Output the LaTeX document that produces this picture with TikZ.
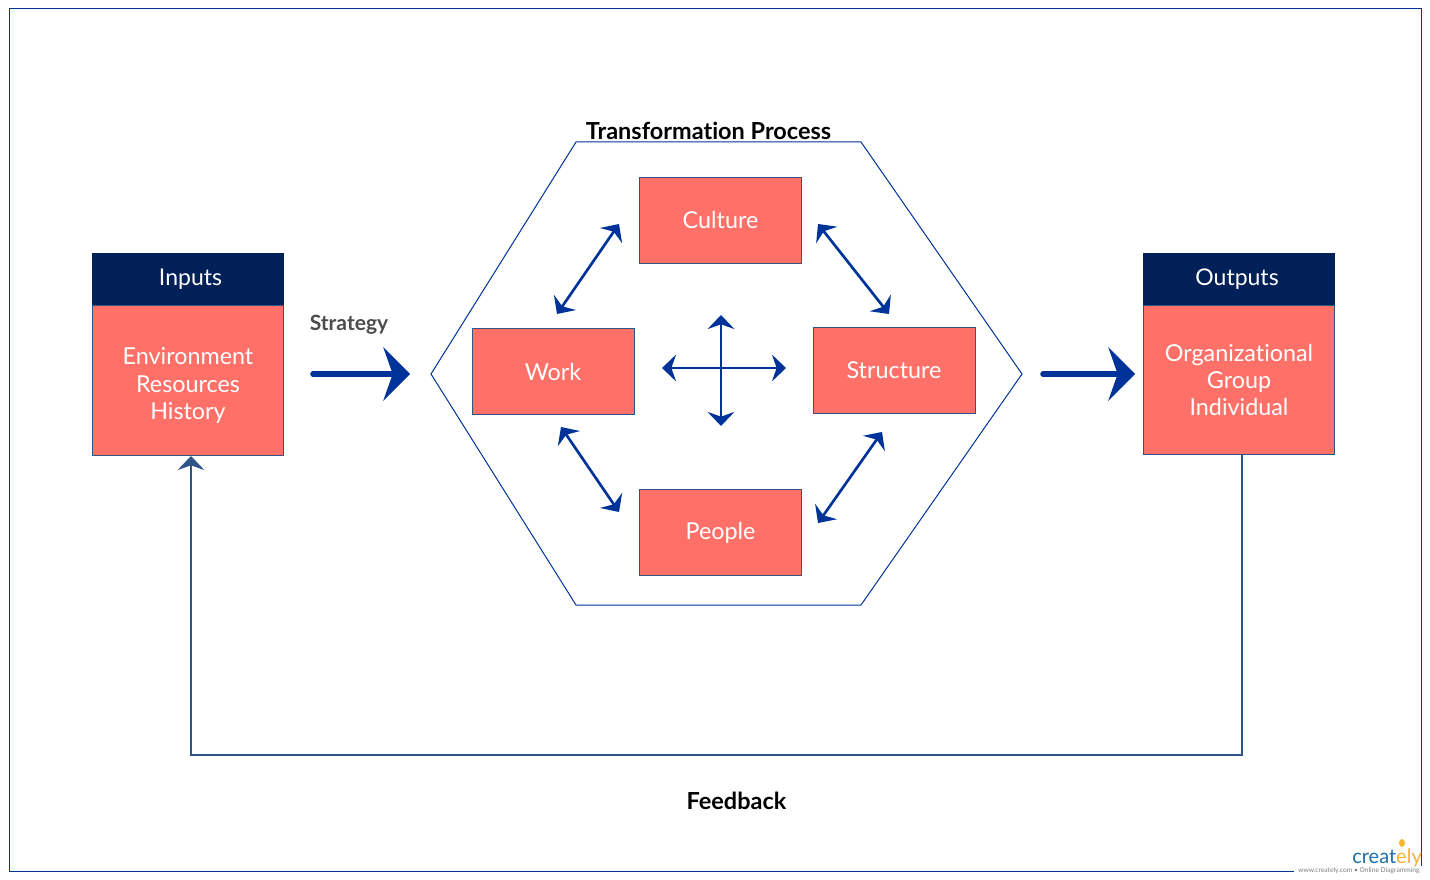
\documentclass[tikz,border=0pt]{standalone}
\usepackage{fontspec}
\setmainfont[Ligatures=NoCommon]{Lato}
\usetikzlibrary{arrows.meta}
\definecolor{framenavy}{RGB}{0, 51, 153}
\definecolor{headernavy}{RGB}{0, 32, 87}
\definecolor{boxred}{RGB}{255, 113, 104}
\definecolor{boxline}{RGB}{47, 84, 135}
\definecolor{labelgray}{RGB}{77, 77, 77}
\definecolor{logoblue}{RGB}{30, 110, 170}
\definecolor{logoyellow}{RGB}{245, 180, 50}

\begin{document}
\begin{tikzpicture}[
        x=0.75pt, y=-0.75pt,
        header/.style={rectangle, draw=headernavy, fill=headernavy, line width=0.75pt, minimum width=143.25pt, minimum height=38.25pt, inner sep=0pt, text=white, font=\fontsize{17.25}{20}\selectfont},
        body/.style={rectangle, draw=boxline, fill=boxred, line width=0.75pt, minimum width=143.25pt, minimum height=113pt, inner sep=0pt, text=white, align=center, font=\fontsize{17.5}{20.6}\selectfont},
        factor/.style={rectangle, draw=boxline, fill=boxred, line width=0.75pt, minimum width=121.5pt, minimum height=65pt, inner sep=0pt, text=white, font=\fontsize{17.5}{20.6}\selectfont},
        title/.style={inner sep=0pt, font=\fontsize{17.6}{20}\selectfont\bfseries},
        bigflow/.style={-{Stealth[length=20pt, width=40pt, inset=7pt]}, line width=4.2pt, line cap=round, color=framenavy},
        twoway/.style={{Stealth[length=10.5pt, width=20pt, inset=3.5pt]}-{Stealth[length=10.5pt, width=20pt, inset=3.5pt]}, line width=2pt, color=framenavy},
        feedback/.style={-{Stealth[length=10.5pt, width=20pt, inset=3.5pt]}, line width=1.5pt, color=boxline}
    ]
    \useasboundingbox (0, 0) rectangle (1430, 880);

    % Outer frame and hexagon
    \draw[framenavy, line width=0.75pt] (9, 9) rectangle (1421, 871);
    \draw[framenavy, line width=0.75pt] (431, 374) -- (576, 142) -- (861, 142) -- (1022, 374) -- (861, 605) -- (576, 605) -- cycle;

    % Inputs and Outputs
    \node[header] (inhead) at (188, 279) {\hspace*{3.75pt}Inputs};
    \node[body] (inbody) at (188, 380.5) {\mbox{}\\ Environment\\ Resources\\ History};
    \node[header] (outhead) at (1239, 279) {Outputs\hspace*{3pt}};
    \node[body, minimum height=112pt] (outbody) at (1239, 380) {\raisebox{-1.5pt}{Organizational}\\ \raisebox{-1.5pt}{Group}\\ \raisebox{-1.5pt}{Individual}};

    % Factors inside the hexagon
    \node[factor] (culture) at (720.5, 220.5) {\raisebox{-0.75pt}{Culture}};
    \node[factor] (work) at (553, 371.5) {\raisebox{-0.75pt}{Work}};
    \node[factor] (structure) at (894, 370.5) {\raisebox{-0.75pt}{Structure}};
    \node[factor] (people) at (720.5, 532.5) {\raisebox{-1pt}{People}};

    % Titles
    \node[title] (process) at (708.5, 130.5) {Transformation Process};
    \node[title, text=labelgray, font=\fontsize{15.8}{18}\selectfont\bfseries] (strategy) at (349, 324.5) {Strategy};
    \node[title] (feedbacklabel) at (736.5, 801) {Feedback};

    % Ends of the arrows
    \coordinate (strategyin) at (313, 374);
    \coordinate (strategyout) at (410, 374);
    \coordinate (resultin) at (1043, 374);
    \coordinate (resultout) at (1135, 374);
    \coordinate (workup) at (557, 314);
    \coordinate (cultureleft) at (619, 224);
    \coordinate (cultureright) at (818, 224);
    \coordinate (structureup) at (889, 314);
    \coordinate (workdown) at (561, 427);
    \coordinate (peopleleft) at (619, 512);
    \coordinate (peopleright) at (818, 523);
    \coordinate (structuredown) at (882, 432);
    \coordinate (crossup) at (721, 315);
    \coordinate (crossdown) at (721, 426);
    \coordinate (crossleft) at (662, 368);
    \coordinate (crossright) at (786, 368);
    \coordinate (feedbackout) at (1242, 455);
    \coordinate (feedbackin) at (191, 456);

    % Flows
    \draw[bigflow] (strategyin) -- (strategyout);
    \draw[bigflow] (resultin) -- (resultout);
    \draw[twoway] (workup) -- (cultureleft);
    \draw[twoway] (cultureright) -- (structureup);
    \draw[twoway] (workdown) -- (peopleleft);
    \draw[twoway] (peopleright) -- (structuredown);
    \draw[twoway] (crossup) -- (crossdown);
    \draw[twoway] (crossleft) -- (crossright);
    \draw[feedback] (feedbackout) -- (1242, 755) -- (191, 755) -- (feedbackin);

    % Logo in the corner
    \fill[white] (1294, 838) rectangle (1421.5, 875);
    \draw[framenavy, line width=0.75pt] (1421, 838) -- (1421, 866);
    \fill[logoyellow] (1402, 843) ellipse (3 and 4);
    \node[inner sep=0pt, anchor=base west, text=logoblue, font=\fontsize{15}{18}\selectfont] (logo) at (1352, 863) {creat\textcolor{logoyellow}{ely}};
    \node[inner sep=0pt, anchor=base west, text=gray, font=\fontsize{5}{5}\selectfont] (logourl) at (1298, 872.5) {www.creately.com • Online Diagramming};

\end{tikzpicture}
\end{document}
